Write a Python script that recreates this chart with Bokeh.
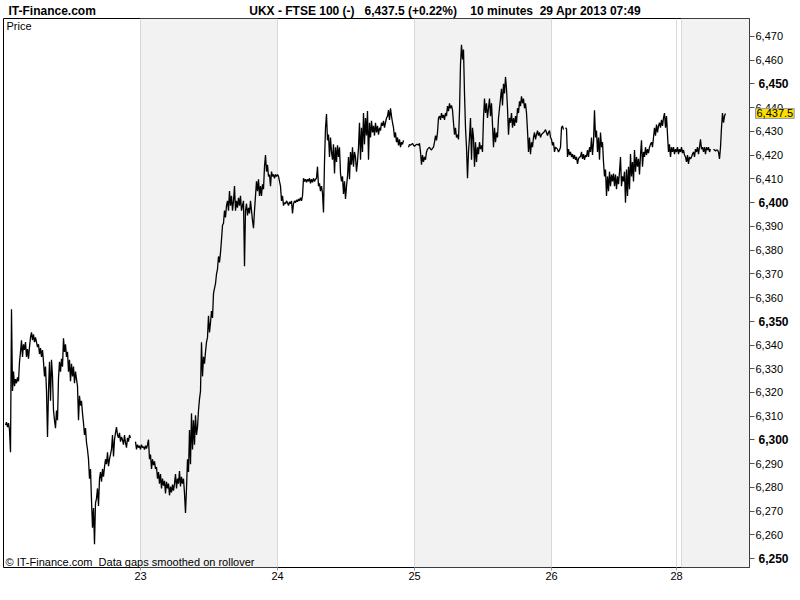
import numpy as np
from bokeh.plotting import figure
from bokeh.models import ColumnDataSource, FixedTicker, BoxAnnotation, Label, Range1d, LinearAxis
from bokeh.embed import file_html
from bokeh.resources import INLINE

nan = float("nan")

# UKX - FTSE 100, 10-minute closes (bar index 0 = first bar of Mon 22 Apr 2013)
close = [
    6306.3, 6307.5, 6305.4, 6307.1, 6304.2, 6294.8, 6355.1, 6320.6, 6328.8, 6322.7,
    6325.6, 6323.9, 6326.4, 6324.7, 6332.9, 6337.1, 6342.0, 6335.0, 6340.3, 6337.9,
    6341.2, 6335.0, 6338.3, 6334.2, 6339.1, 6343.2, 6345.3, 6342.0, 6344.5, 6341.2,
    6343.2, 6341.2, 6339.1, 6340.3, 6336.2, 6338.7, 6335.0, 6337.9, 6332.9, 6326.8,
    6330.9, 6320.6, 6301.3, 6320.6, 6332.9, 6316.5, 6333.8, 6326.8, 6312.4, 6308.3,
    6305.0, 6312.4, 6308.3, 6326.0, 6332.9, 6328.8, 6334.2, 6330.9, 6342.8, 6337.1,
    6340.3, 6335.0, 6337.1, 6328.8, 6333.8, 6324.7, 6332.1, 6326.8, 6330.9, 6323.9,
    6328.8, 6325.6, 6322.7, 6308.3, 6318.6, 6314.5, 6316.5, 6311.2, 6307.1, 6302.1,
    6305.0, 6298.9, 6296.0, 6291.9, 6283.7, 6287.8, 6274.6, 6263.1, 6271.3, 6256.1,
    6273.4, 6275.4, 6279.6, 6272.2, 6283.7, 6286.5, 6282.4, 6287.8, 6284.5, 6288.6,
    6291.9, 6289.8, 6294.8, 6289.0, 6291.9, 6293.9, 6296.0, 6302.1, 6293.1, 6300.1,
    6303.0, 6305.4, 6302.1, 6300.9, 6303.0, 6299.3, 6301.3, 6300.1, 6298.0, 6302.1,
    6298.9, 6296.8, 6300.9, 6299.3, 6302.1, 6300.9, nan, nan, nan, nan,
    6299.3, 6296.0, 6298.0, 6296.8, 6297.6, 6296.0, 6298.0, 6296.8, 6297.2, 6296.0,
    6297.6, 6296.4, 6298.0, 6300.1, 6291.9, 6293.9, 6287.8, 6291.9, 6289.4, 6291.0,
    6287.8, 6288.6, 6283.7, 6286.5, 6281.6, 6285.7, 6279.6, 6283.7, 6280.8, 6282.8,
    6277.5, 6282.4, 6279.6, 6281.6, 6276.7, 6280.4, 6277.9, 6281.2, 6278.7, 6281.6,
    6285.7, 6279.6, 6283.7, 6281.6, 6286.9, 6280.4, 6284.5, 6281.6, 6283.7, 6277.5,
    6269.3, 6279.6, 6291.9, 6286.5, 6304.2, 6289.8, 6311.2, 6296.0, 6308.3, 6298.0,
    6310.4, 6302.1, 6305.4, 6312.4, 6317.3, 6320.6, 6341.2, 6326.8, 6335.0, 6332.1,
    6337.1, 6341.2, 6343.2, 6352.3, 6345.3, 6349.4, 6354.3, 6351.4, 6361.7, 6363.8,
    6365.8, 6369.9, 6372.0, 6377.3, 6374.8, 6378.9, 6384.3, 6390.4, 6391.3, 6396.6,
    6393.7, 6398.7, 6400.7, 6396.6, 6404.8, 6398.7, 6402.8, 6396.6, 6400.7, 6406.9,
    6396.6, 6400.7, 6397.8, 6402.0, 6398.7, 6402.8, 6396.6, 6398.7, 6400.7, 6373.2,
    6396.6, 6399.5, 6394.6, 6397.8, 6395.4, 6400.7, 6396.6, 6392.5, 6389.2, 6396.6,
    6402.8, 6408.9, 6404.8, 6409.8, 6402.8, 6406.9, 6402.8, 6407.7, 6405.6, 6415.1,
    6420.0, 6413.0, 6415.9, 6411.0, 6411.8, 6406.9, 6413.0, 6411.0, 6411.8, 6410.2,
    6411.8, 6411.0, 6411.8, 6411.0, 6408.9, 6406.9, 6400.7, 6402.8, 6398.7, 6399.9,
    6399.5, 6400.7, 6399.9, 6398.7, 6400.3, 6399.5, 6400.7, 6395.4, 6399.5, 6400.7,
    6399.9, 6401.1, 6400.3, 6401.5, 6400.7, 6402.0, 6400.7, 6402.8, 6410.2, 6408.9,
    6409.8, 6408.5, 6409.8, 6408.9, 6410.2, 6408.1, 6409.8, 6408.5, 6410.2, 6408.9,
    6409.8, 6410.2, 6415.1, 6406.9, 6408.1, 6404.8, 6406.9, 6404.0, 6395.8, 6417.1,
    6431.5, 6437.3, 6426.2, 6428.6, 6419.2, 6427.4, 6421.3, 6418.0, 6424.5, 6412.2,
    6423.3, 6417.1, 6424.1, 6419.2, 6423.3, 6412.2, 6408.9, 6411.0, 6403.6, 6408.9,
    6401.5, 6406.9, 6411.0, 6419.2, 6409.8, 6421.3, 6415.9, 6423.3, 6415.1, 6421.3,
    6419.2, 6413.0, 6417.1, 6423.3, 6433.6, 6418.0, 6431.5, 6421.3, 6437.7, 6424.5,
    6435.6, 6428.2, 6438.5, 6418.0, 6433.6, 6427.4, 6434.4, 6429.5, 6432.3, 6428.2,
    6433.6, 6429.5, 6432.3, 6428.6, 6431.5, 6430.3, 6433.6, 6432.3, 6434.4, 6431.5,
    6433.6, 6435.6, 6436.4, 6438.9, 6434.8, 6439.7, 6436.4, 6433.6, 6431.5, 6427.4,
    6429.5, 6425.4, 6427.4, 6424.1, 6426.6, 6423.3, 6425.4, 6424.5, 6426.2, nan,
    nan, nan, nan, 6423.3, 6424.5, 6424.1, 6424.5, 6424.9, 6424.1, 6423.7,
    6424.1, 6424.5, 6424.5, 6424.1, 6424.9, 6421.3, 6415.9, 6420.0, 6417.1, 6419.2,
    6418.0, 6421.3, 6422.5, 6422.9, 6423.3, 6422.5, 6422.1, 6422.9, 6423.3, 6425.4,
    6428.2, 6426.2, 6429.5, 6435.6, 6436.4, 6434.8, 6437.7, 6435.6, 6436.9, 6434.8,
    6437.7, 6436.4, 6440.6, 6438.5, 6441.8, 6439.7, 6440.9, 6438.9, 6433.6, 6428.6,
    6431.5, 6427.4, 6428.6, 6426.6, 6438.5, 6458.2, 6466.4, 6460.3, 6464.4, 6445.9,
    6431.5, 6423.3, 6410.2, 6421.3, 6427.4, 6435.6, 6418.0, 6431.5, 6427.4, 6415.1,
    6425.4, 6417.1, 6423.3, 6420.4, 6425.4, 6422.5, 6424.1, 6421.3, 6435.6, 6443.8,
    6437.7, 6441.8, 6435.6, 6439.7, 6443.8, 6436.4, 6441.8, 6432.8, 6423.3, 6431.5,
    6425.4, 6429.5, 6427.4, 6435.6, 6439.7, 6443.8, 6447.9, 6440.9, 6450.0, 6445.9,
    6452.9, 6447.9, 6439.7, 6428.6, 6435.6, 6433.6, 6437.7, 6431.5, 6435.6, 6432.3,
    6436.4, 6433.6, 6439.7, 6437.7, 6442.6, 6440.6, 6444.7, 6441.8, 6443.8, 6439.7,
    6441.8, 6437.7, 6430.3, 6421.3, 6427.4, 6420.4, 6425.4, 6423.3, 6427.4, 6429.5,
    6426.6, 6428.6, 6430.3, 6428.2, 6429.5, 6427.4, 6428.6, 6429.1, 6429.5, 6429.9,
    6430.7, 6429.5, 6428.2, 6429.5, 6430.3, 6427.4, 6426.6, 6424.1, 6425.4, 6421.3,
    6423.3, 6422.9, 6422.5, 6421.3, 6422.1, 6423.3, 6431.5, 6432.3, 6430.7, nan,
    6431.5, 6431.1, 6419.2, 6422.5, 6420.0, 6421.3, 6419.2, 6420.4, 6418.4, 6420.0,
    6418.0, 6419.2, 6416.3, 6418.4, 6419.2, 6419.2, 6421.3, 6418.4, 6420.4, 6418.0,
    6420.0, 6419.2, 6422.1, 6419.2, 6423.3, 6421.3, 6427.4, 6420.0, 6425.4, 6438.9,
    6427.4, 6430.3, 6421.3, 6427.4, 6418.0, 6429.5, 6423.3, 6425.4, 6417.1, 6411.0,
    6413.9, 6402.8, 6411.0, 6404.8, 6413.0, 6406.9, 6411.8, 6408.9, 6412.2, 6406.9,
    6411.8, 6405.6, 6411.0, 6407.7, 6413.0, 6419.2, 6406.9, 6411.0, 6408.9, 6413.0,
    6399.9, 6413.9, 6402.8, 6415.1, 6405.6, 6420.4, 6411.0, 6417.1, 6408.9, 6422.1,
    6413.0, 6419.2, 6415.1, 6418.4, 6411.8, 6420.0, 6426.2, 6415.1, 6421.3, 6419.2,
    6423.3, 6420.0, 6422.5, 6420.8, 6423.3, 6424.5, 6425.4, 6423.3, 6427.4, 6431.5,
    6428.2, 6432.8, 6429.5, 6432.3, 6433.6, 6431.5, 6434.8, 6432.3, 6435.6, 6437.7,
    6431.5, 6436.4, 6428.6, 6421.3, 6424.5, 6419.2, 6423.3, 6421.3, 6423.3, 6420.4,
    6422.5, 6421.3, 6423.3, 6420.4, 6422.5, 6421.3, 6423.3, 6420.8, 6422.1, 6420.0,
    6419.2, 6417.1, 6420.0, 6416.3, 6419.2, 6418.4, 6419.2, 6420.4, 6421.3, 6419.2,
    6422.5, 6421.3, 6423.3, 6420.4, 6423.3, 6426.6, 6422.5, 6423.3, 6421.3, 6423.3,
    6420.4, 6423.3, 6422.1, 6423.3, 6421.3, 6422.5, nan, nan, 6422.5, 6422.1,
    6421.7, 6422.1, 6422.1, 6421.3, 6418.4, 6423.3, 6431.5, 6437.7, 6433.6, 6436.4,
    6437.5,
]

day_labels = ["23", "24", "25", "26", "28"]
day_start_bar = [135, 272, 409, 546, 671]
monday29_start_bar = 676
shaded_days = [(135, 272), (409, 546), (676, 744)]
price_ticks = list(range(6250, 6471, 10))
last_price = 6437.5
site = "IT-Finance.com"
header_parts = ["UKX - FTSE 100 (-)", "6,437.5 (+0.22%)", "10 minutes", "29 Apr 2013 07:49"]

bars = np.arange(len(close))
src = ColumnDataSource(dict(bar=bars, close=np.array(close, dtype=float)))

FONT = "Liberation Sans"
NB = "\u00a0"

FRAME_L, FRAME_W, FRAME_T, FRAME_H = 3, 746, 18, 549

p = figure(
    frame_width=FRAME_W, frame_height=FRAME_H,
    min_border_left=FRAME_L, min_border_right=0, min_border_top=FRAME_T, min_border_bottom=17,
    x_range=Range1d(-2, 744), y_range=Range1d(6246.3, 6477.5),
    y_axis_location="right", toolbar_location=None, output_backend="svg",
    background_fill_color="white", border_fill_color="white",
)
p.outline_line_color = "black"
p.outline_line_width = 1
p.outline_line_alpha = 1

# header as the title
p.title.text = (site + NB * 46 + header_parts[0] + NB * 3 + header_parts[1] + NB * 4 +
                header_parts[2] + NB * 2 + header_parts[3])
p.title.text_font = FONT
p.title.text_font_size = "12px"
p.title.text_font_style = "bold"
p.title.text_color = "black"
p.title.align = "left"
p.title.offset = 5
p.title.standoff = 1

for left, right in shaded_days:
    p.add_layout(BoxAnnotation(left=left, right=right, fill_color="#f2f2f2", fill_alpha=1.0,
                               line_color=None, level="image"))

p.xgrid.ticker = FixedTicker(ticks=day_start_bar + [monday29_start_bar])
p.xgrid.grid_line_color = "#d9d9d9"
p.ygrid.grid_line_color = None

xa = p.xaxis[0]
xa.ticker = FixedTicker(ticks=day_start_bar)
xa.major_label_overrides = {b: l for b, l in zip(day_start_bar, day_labels)}
xa.axis_line_color = None
xa.major_tick_line_color = "#8899aa"
xa.major_tick_in = 0
xa.major_tick_out = 3
xa.minor_tick_line_color = None
xa.major_label_standoff = 1
xa.major_label_text_font = FONT
xa.major_label_text_font_size = "11px"
xa.major_label_text_color = "black"

# regular price labels
ya = p.yaxis[0]
ya.ticker = FixedTicker(ticks=price_ticks)
ya.major_label_overrides = {t: ("" if t % 50 == 0 else f"{t:,}") for t in price_ticks}
ya.axis_line_color = None
ya.major_tick_line_color = "#555555"
ya.major_tick_in = 0
ya.major_tick_out = 5
ya.minor_tick_line_color = None
ya.major_label_standoff = 1
ya.major_label_text_font = FONT
ya.major_label_text_font_size = "11px"
ya.major_label_text_color = "black"

# bold labels for every 50 points (second right axis pulled back over the first one)
yb = LinearAxis(ticker=FixedTicker(ticks=price_ticks))
yb.major_label_overrides = {t: (f"{t:,}" if t % 50 == 0 else "") for t in price_ticks}
yb.axis_line_color = None
yb.major_tick_line_color = None
yb.major_tick_in = 0
yb.major_tick_out = 0
yb.minor_tick_line_color = None
yb.major_label_standoff = -28
yb.major_label_text_font = FONT
yb.major_label_text_font_size = "12px"
yb.major_label_text_font_style = "bold"
yb.major_label_text_color = "black"
p.add_layout(yb, "right")

p.line("bar", "close", source=src, line_color="black", line_width=1.3)

# last price tag
p.add_layout(Label(x=755, y=last_price, x_units="canvas", y_units="data", text=f"{last_price:,.1f}",
                   text_font=FONT, text_font_size="11px", text_baseline="middle",
                   text_align="left", text_color="black", background_fill_color="#ffdf00",
                   border_line_color="#8a9fb5", padding=1), "right")

p.add_layout(Label(x=6, y=25, x_units="canvas", y_units="canvas", text="Price",
                   text_font=FONT, text_font_size="11px", text_baseline="middle",
                   text_color="black"))
p.add_layout(Label(x=5, y=561, x_units="canvas", y_units="canvas",
                   text="\u00a9 IT-Finance.com" + NB + " Data gaps smoothed on rollover",
                   text_font=FONT, text_font_size="11px", text_baseline="middle",
                   text_color="black"))

open("out.html", "w").write(file_html(p, INLINE))
